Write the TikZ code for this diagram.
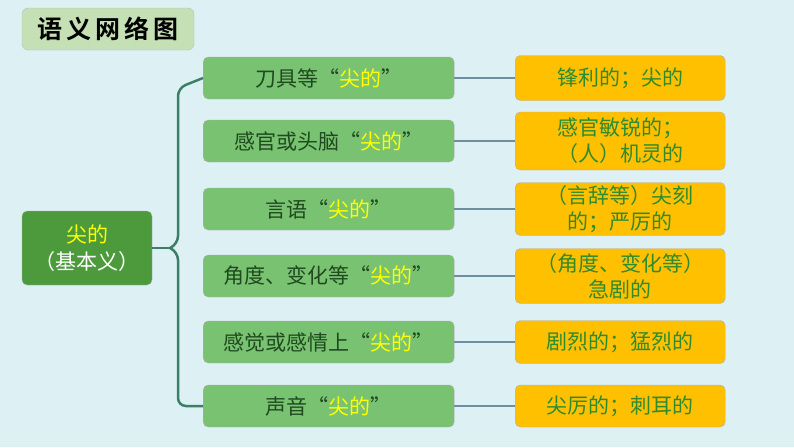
\documentclass[tikz,border=0pt]{standalone}
\usepackage{fontspec}
\newfontfamily\cjk{Noto Sans CJK SC}
\newfontfamily\cjkb{Noto Sans CJK SC Bold}
\definecolor{bg}{HTML}{DDF0F4}
\definecolor{midg}{HTML}{79C272}
\definecolor{rootg}{HTML}{4C9A3C}
\definecolor{org}{HTML}{FFC000}
\definecolor{txtg}{HTML}{1E4A1E}
\definecolor{rtxt}{HTML}{2E8B2E}
\definecolor{yel}{HTML}{FFFF00}
\definecolor{brace}{HTML}{3A7F66}
\definecolor{link}{HTML}{6E8FA0}
\definecolor{titleg}{HTML}{C5E0B4}
\tikzset{
 midbox/.style={draw=gray!60,fill=midg,rounded corners=5pt,minimum width=251pt,minimum height=42pt,text=txtg,font=\cjk\fontsize{21}{24}\selectfont,anchor=west,inner sep=0pt},
 rbox/.style={draw=gray!60,fill=org,rounded corners=5pt,minimum width=210pt,text=rtxt,font=\cjk\fontsize{21}{26}\selectfont,anchor=west,align=center,inner sep=0pt},
 conn/.style={draw=link,line width=1.5pt}
}
\newcommand{\yj}{{\color{yel}尖的}}
\begin{document}
\begin{tikzpicture}[x=1pt,y=-1pt]
\fill[bg] (0,0) rectangle (794,447);
\useasboundingbox (0,0) rectangle (794,447);
\node[draw=gray!50,fill=titleg,rounded corners=6pt,minimum width=172pt,minimum height=42pt,font=\cjkb\fontsize{25}{28}\selectfont,inner sep=0pt] (t) at (108,29) {语\,义\,网\,络\,图};
\node[draw=gray!60,fill=rootg,rounded corners=5pt,minimum width=130pt,minimum height=74pt,text=white,font=\cjk\fontsize{21}{27}\selectfont,align=center,inner sep=0pt] (root) at (87,248) {\yj\\（基本义）};
\foreach \i/\y/\m/\r/\h in {
 1/78/刀具等“\yj”/锋利的；尖的/45,
 2/141/感官或头脑“\yj”/感官敏锐的；\\（人）机灵的/58,
 3/209/言语“\yj”/（言辞等）尖刻\\的；严厉的/53,
 4/276/角度、变化等“\yj”/（角度、变化等）\\急剧的/55,
 5/342/感觉或感情上“\yj”/剧烈的；猛烈的/43,
 6/406/声音“\yj”/尖厉的；刺耳的/42}{
 \node[midbox] (m\i) at (203,\y) {\m};
 \node[rbox,minimum height=\h pt] (r\i) at (515,\y) {\r};
 \draw[conn] (m\i.east) -- (r\i.west);
}
\draw[brace,line width=2.5pt,rounded corners=8pt] (m1.west) -- (178,88) -- (178,244) -- (170,248) ;
\draw[brace,line width=2.5pt,rounded corners=8pt] (m6.west) -- (178,406) -- (178,252) -- (170,248);
\draw[brace,line width=2.5pt] (root.east) -- (170,248);
\end{tikzpicture}
\end{document}
